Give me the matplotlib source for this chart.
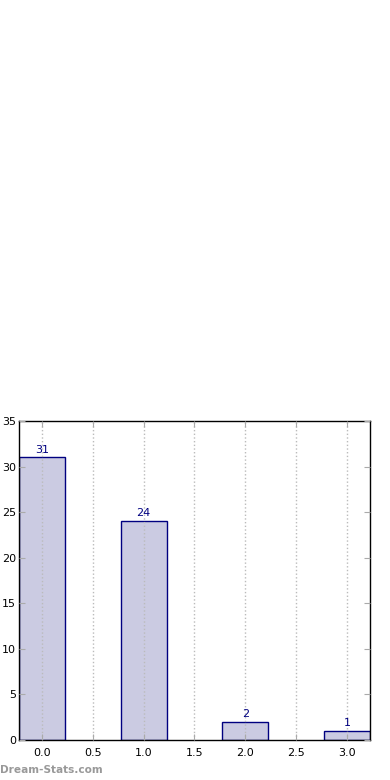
import matplotlib
matplotlib.use("Agg")
import matplotlib.pyplot as plt

# data
positions = [0, 1, 2, 3]
counts = [31, 24, 2, 1]
xticks = [0.0, 0.5, 1.0, 1.5, 2.0, 2.5, 3.0]
yticks = [0, 5, 10, 15, 20, 25, 30, 35]

fig = plt.figure(figsize=(3.9, 7.8), dpi=100)
ax = fig.add_axes([0.0487, 0.0513, 0.9, 0.409])

bars = ax.bar(positions, counts, width=0.45, color='#cbcbe2', edgecolor='navy', linewidth=1, zorder=1)
for p, c in zip(positions, counts):
	ax.text(p, c + 0.3, str(c), ha='center', va='bottom', color='navy', fontsize=8)

ax.set_xlim(-0.225, 3.225)
ax.set_ylim(0, 35)
ax.set_xticks(xticks)
ax.set_xticklabels(['%.1f' % t for t in xticks])
ax.set_yticks(yticks)
ax.tick_params(direction='in', labelsize=8, length=4, color='#aaaaaa', top=True, right=True)
ax.tick_params(axis='x', pad=6)
ax.tick_params(axis='y', pad=2)
ax.xaxis.grid(True, linestyle=':', color='#bbbbbb', linewidth=1, zorder=2)
ax.set_axisbelow(False)
for s in ax.spines.values():
	s.set_linewidth(1)

fig.text(0.0, 0.0128, 'Dream-Stats.com', color='#999999', fontsize=7.6, fontweight='bold', ha='left', va='center')

fig.savefig('out.png', dpi=100)
